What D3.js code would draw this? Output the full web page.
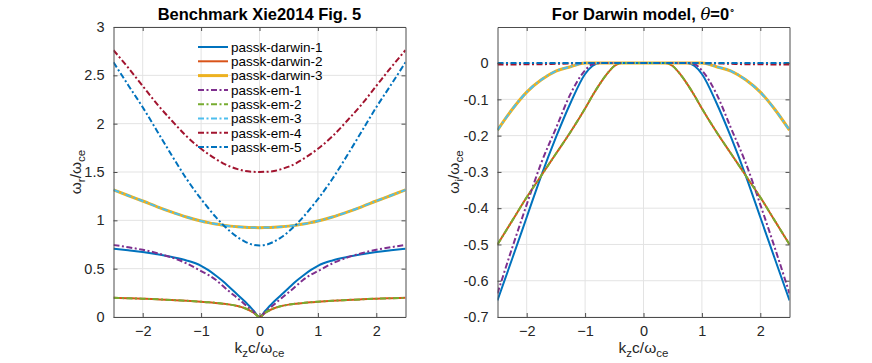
<!DOCTYPE html>
<html>
<head>
<meta charset="utf-8">
<script src="https://cdn.jsdelivr.net/npm/d3@7"></script>
<style>
  body { margin: 0; background: #fff; }
  svg { display: block; font-family: "Liberation Sans", Arial, Helvetica, sans-serif; }
</style>
</head>
<body>
<svg id="chart" width="872" height="363"></svg>
<script>
// wavenumber k_z c / w_ce
const kz = [-2.5, -2.25, -2, -1.75, -1.5, -1.25, -1, -0.875, -0.75, -0.625, -0.5, -0.375, -0.25, -0.1, 0,
            0.1, 0.25, 0.375, 0.5, 0.625, 0.75, 0.875, 1, 1.25, 1.5, 1.75, 2, 2.25, 2.5];

// real part w_r / w_ce
const darwin1Re = [0.707, 0.69, 0.672, 0.648, 0.62, 0.585, 0.53, 0.485, 0.43, 0.37, 0.30, 0.23, 0.16, 0.065, 0,
                   0.065, 0.16, 0.23, 0.30, 0.37, 0.43, 0.485, 0.53, 0.585, 0.62, 0.648, 0.672, 0.69, 0.707];
const darwin2Re = [0.198, 0.194, 0.189, 0.183, 0.176, 0.168, 0.158, 0.153, 0.146, 0.138, 0.128, 0.113, 0.09, 0.045, 0,
                   0.045, 0.09, 0.113, 0.128, 0.138, 0.146, 0.153, 0.158, 0.168, 0.176, 0.183, 0.189, 0.194, 0.198];
const darwin3Re = [1.315, 1.257, 1.2, 1.14, 1.085, 1.035, 0.993, 0.976, 0.962, 0.95, 0.94, 0.933, 0.928, 0.925, 0.924,
                   0.925, 0.928, 0.933, 0.94, 0.95, 0.962, 0.976, 0.993, 1.035, 1.085, 1.14, 1.2, 1.257, 1.315];
const em1Re = [0.745, 0.722, 0.695, 0.66, 0.615, 0.555, 0.475, 0.435, 0.385, 0.32, 0.255, 0.195, 0.13, 0.052, 0,
               0.052, 0.13, 0.195, 0.255, 0.32, 0.385, 0.435, 0.475, 0.555, 0.615, 0.66, 0.695, 0.722, 0.745];
const em2Re = [0.198, 0.194, 0.189, 0.183, 0.176, 0.168, 0.158, 0.153, 0.146, 0.138, 0.128, 0.113, 0.09, 0.045, 0,
               0.045, 0.09, 0.113, 0.128, 0.138, 0.146, 0.153, 0.158, 0.168, 0.176, 0.183, 0.189, 0.194, 0.198];
const em3Re = [1.315, 1.257, 1.2, 1.14, 1.085, 1.035, 0.993, 0.976, 0.962, 0.95, 0.94, 0.933, 0.928, 0.925, 0.924,
               0.925, 0.928, 0.933, 0.94, 0.95, 0.962, 0.976, 0.993, 1.035, 1.085, 1.14, 1.2, 1.257, 1.315];
const em4Re = [2.76, 2.58, 2.39, 2.2, 2.03, 1.87, 1.74, 1.685, 1.635, 1.59, 1.555, 1.53, 1.51, 1.502, 1.5,
               1.502, 1.51, 1.53, 1.555, 1.59, 1.635, 1.685, 1.74, 1.87, 2.03, 2.2, 2.39, 2.58, 2.76];
const em5Re = [2.635, 2.40, 2.17, 1.92, 1.67, 1.43, 1.22, 1.125, 1.035, 0.955, 0.885, 0.825, 0.78, 0.746, 0.74,
               0.746, 0.78, 0.825, 0.885, 0.955, 1.035, 1.125, 1.22, 1.43, 1.67, 1.92, 2.17, 2.40, 2.635];

// imaginary part w_i / w_ce
const darwin1Im = [-0.654, -0.54, -0.425, -0.31, -0.205, -0.11, -0.03, -0.008, 0, 0, 0, 0, 0, 0, 0,
                   0, 0, 0, 0, 0, 0, -0.008, -0.03, -0.11, -0.205, -0.31, -0.425, -0.54, -0.654];
const darwin2Im = [-0.5, -0.435, -0.37, -0.31, -0.25, -0.19, -0.125, -0.09, -0.058, -0.03, -0.008, 0, 0, 0, 0,
                   0, 0, 0, -0.008, -0.03, -0.058, -0.09, -0.125, -0.19, -0.25, -0.31, -0.37, -0.435, -0.5];
const darwin3Im = [-0.185, -0.128, -0.08, -0.046, -0.022, -0.01, 0, 0, 0, 0, 0, 0, 0, 0, 0,
                   0, 0, 0, 0, 0, 0, 0, 0, -0.01, -0.022, -0.046, -0.08, -0.128, -0.185];
const em1Im = [-0.635, -0.51, -0.39, -0.275, -0.18, -0.085, -0.02, -0.003, 0, 0, 0, 0, 0, 0, 0,
               0, 0, 0, 0, 0, 0, -0.003, -0.02, -0.085, -0.18, -0.275, -0.39, -0.51, -0.635];
const em2Im = [-0.5, -0.435, -0.37, -0.31, -0.25, -0.19, -0.125, -0.09, -0.058, -0.03, -0.008, 0, 0, 0, 0,
               0, 0, 0, -0.008, -0.03, -0.058, -0.09, -0.125, -0.19, -0.25, -0.31, -0.37, -0.435, -0.5];
const em3Im = [-0.185, -0.128, -0.08, -0.046, -0.022, -0.01, 0, 0, 0, 0, 0, 0, 0, 0, 0,
               0, 0, 0, 0, 0, 0, 0, 0, -0.01, -0.022, -0.046, -0.08, -0.128, -0.185];
const em4Im = [-0.004, -0.004, -0.003, -0.003, -0.002, -0.001, 0, 0, 0, 0, 0, 0, 0, 0, 0,
               0, 0, 0, 0, 0, 0, 0, 0, -0.001, -0.002, -0.003, -0.003, -0.004, -0.004];
const em5Im = [0, 0, 0, 0, 0, 0, 0, 0, 0, 0, 0, 0, 0, 0, 0,
               0, 0, 0, 0, 0, 0, 0, 0, 0, 0, 0, 0, 0, 0];

const seriesNames = ['passk-darwin-1', 'passk-darwin-2', 'passk-darwin-3',
                     'passk-em-1', 'passk-em-2', 'passk-em-3', 'passk-em-4', 'passk-em-5'];
const reValues = [darwin1Re, darwin2Re, darwin3Re, em1Re, em2Re, em3Re, em4Re, em5Re];
const imValues = [darwin1Im, darwin2Im, darwin3Im, em1Im, em2Im, em3Im, em4Im, em5Im];

const xTicks = [-2, -1, 0, 1, 2];
const reTicks = [0, 0.5, 1, 1.5, 2, 2.5, 3];
const imTicks = [-0.7, -0.6, -0.5, -0.4, -0.3, -0.2, -0.1, 0];

// matlab default line colours
const colors = ['#0072BD', '#D95319', '#EDB120', '#7E2F8E', '#77AC30', '#4DBEEE', '#A2142F', '#0072BD'];
const widths = [2, 2, 3, 2, 2, 2, 2, 2];
const dashes = [null, null, null, '6,2.5,2,2.5', '6,2.5,2,2.5', '6,2.5,2,2.5', '6,2.5,2,2.5', '6,2.5,2,2.5'];

const svg = d3.select('#chart');
const plotTop = 27, plotBottom = 317;
const textColor = '#262626';

function drawPanel(id, left, right, yDomain, yTicks, values, fmt) {
    const x = d3.scaleLinear().domain([-2.5, 2.5]).range([left, right]);
    const y = d3.scaleLinear().domain(yDomain).range([plotBottom, plotTop]);
    const g = svg.append('g');

    // grid
    g.append('g').selectAll('line').data(xTicks).join('line')
        .attr('x1', d => x(d)).attr('x2', d => x(d))
        .attr('y1', plotTop).attr('y2', plotBottom)
        .attr('stroke', '#e3e3e3').attr('stroke-width', 1);
    g.append('g').selectAll('line').data(yTicks).join('line')
        .attr('x1', left).attr('x2', right)
        .attr('y1', d => y(d)).attr('y2', d => y(d))
        .attr('stroke', '#e3e3e3').attr('stroke-width', 1);

    g.append('clipPath').attr('id', id)
        .append('rect').attr('x', left).attr('y', plotTop)
        .attr('width', right - left).attr('height', plotBottom - plotTop);

    const line = d3.line()
        .x(d => x(d[0])).y(d => y(d[1]))
        .curve(d3.curveMonotoneX);

    g.append('g').attr('clip-path', `url(#${id})`)
        .selectAll('path')
        .data(values.map((v, i) => ({ i, pts: kz.map((k, j) => [k, v[j]]) })))
        .join('path')
        .attr('fill', 'none')
        .attr('stroke', d => colors[d.i])
        .attr('stroke-width', d => widths[d.i])
        .attr('stroke-dasharray', d => dashes[d.i])
        .attr('d', d => line(d.pts));

    // axes, ticks inside on all four sides
    const axB = d3.axisBottom(x).tickValues(xTicks).tickSizeInner(-4).tickSizeOuter(0).tickPadding(9).tickFormat(d3.format('d'));
    const axT = d3.axisTop(x).tickValues(xTicks).tickSizeInner(-4).tickSizeOuter(0).tickFormat('');
    const axL = d3.axisLeft(y).tickValues(yTicks).tickSizeInner(-4).tickSizeOuter(0).tickPadding(9).tickFormat(fmt);
    const axR = d3.axisRight(y).tickValues(yTicks).tickSizeInner(-4).tickSizeOuter(0).tickFormat('');

    [[axB, `translate(0,${plotBottom})`], [axT, `translate(0,${plotTop})`],
     [axL, `translate(${left},0)`], [axR, `translate(${right},0)`]].forEach(([ax, tr]) => {
        const a = g.append('g').attr('transform', tr).call(ax);
        a.select('.domain').attr('stroke', '#4d4d4d');
        a.selectAll('.tick line').attr('stroke', '#4d4d4d');
        a.selectAll('text').attr('fill', textColor).attr('font-size', 14.5)
            .attr('font-family', '"Liberation Sans", Arial, sans-serif');
    });
    return { x, y, g };
}

// left panel: real part
const p1 = drawPanel('clipL', 113.5, 405.5, [0, 3], reTicks, reValues, d => d);
// right panel: imaginary part
const p2 = drawPanel('clipR', 497.5, 789.5, [-0.7, 0.0995], imTicks, imValues, d => d);

// titles
svg.append('text').attr('x', 259.5).attr('y', 20).attr('text-anchor', 'middle')
    .attr('font-size', 16.5).attr('font-weight', 'bold').attr('fill', '#000')
    .text('Benchmark Xie2014 Fig. 5');
const t2 = svg.append('text').attr('x', 643.5).attr('y', 20).attr('text-anchor', 'middle')
    .attr('font-size', 16.5).attr('font-weight', 'bold').attr('fill', '#000');
t2.append('tspan').text('For Darwin model, ');
t2.append('tspan').attr('font-style', 'italic').attr('font-weight', 'normal')
    .attr('font-family', '"DejaVu Serif", serif').text('θ');
t2.append('tspan').text('=0');
t2.append('tspan').attr('dy', -7).attr('font-size', 10).attr('font-weight', 'normal').text('∘');

// x labels
function xLabel(cx) {
    const t = svg.append('text').attr('x', cx).attr('y', 353).attr('text-anchor', 'middle')
        .attr('font-size', 15.5).attr('fill', textColor);
    t.append('tspan').text('k');
    t.append('tspan').attr('dy', 4).attr('font-size', 11.5).text('z');
    t.append('tspan').attr('dy', -4).text('c/ω');
    t.append('tspan').attr('dy', 4).attr('font-size', 11.5).text('ce');
}
xLabel(259.5);
xLabel(643.5);

// y labels
function yLabel(cx, sub) {
    const t = svg.append('text').attr('transform', `translate(${cx},172) rotate(-90)`)
        .attr('text-anchor', 'middle').attr('font-size', 15.5).attr('fill', textColor);
    t.append('tspan').text('ω');
    t.append('tspan').attr('dy', 4).attr('font-size', 11.5).text(sub);
    t.append('tspan').attr('dy', -4).text('/ω');
    t.append('tspan').attr('dy', 4).attr('font-size', 11.5).text('ce');
}
yLabel(81, 'r');
yLabel(459, 'i');

// legend
const legend = svg.append('g').attr('transform', 'translate(198,47)');
const rows = legend.selectAll('g').data(seriesNames).join('g')
    .attr('transform', (d, i) => `translate(0,${i * 14.3})`);
rows.append('line').attr('x1', 0).attr('x2', 30).attr('y1', 0).attr('y2', 0)
    .attr('stroke', (d, i) => colors[i])
    .attr('stroke-width', (d, i) => widths[i])
    .attr('stroke-dasharray', (d, i) => dashes[i]);
rows.append('text').attr('x', 33).attr('y', 0).attr('dy', '0.35em')
    .attr('font-size', 13.5).attr('fill', '#000').text(d => d);
</script>
</body>
</html>
